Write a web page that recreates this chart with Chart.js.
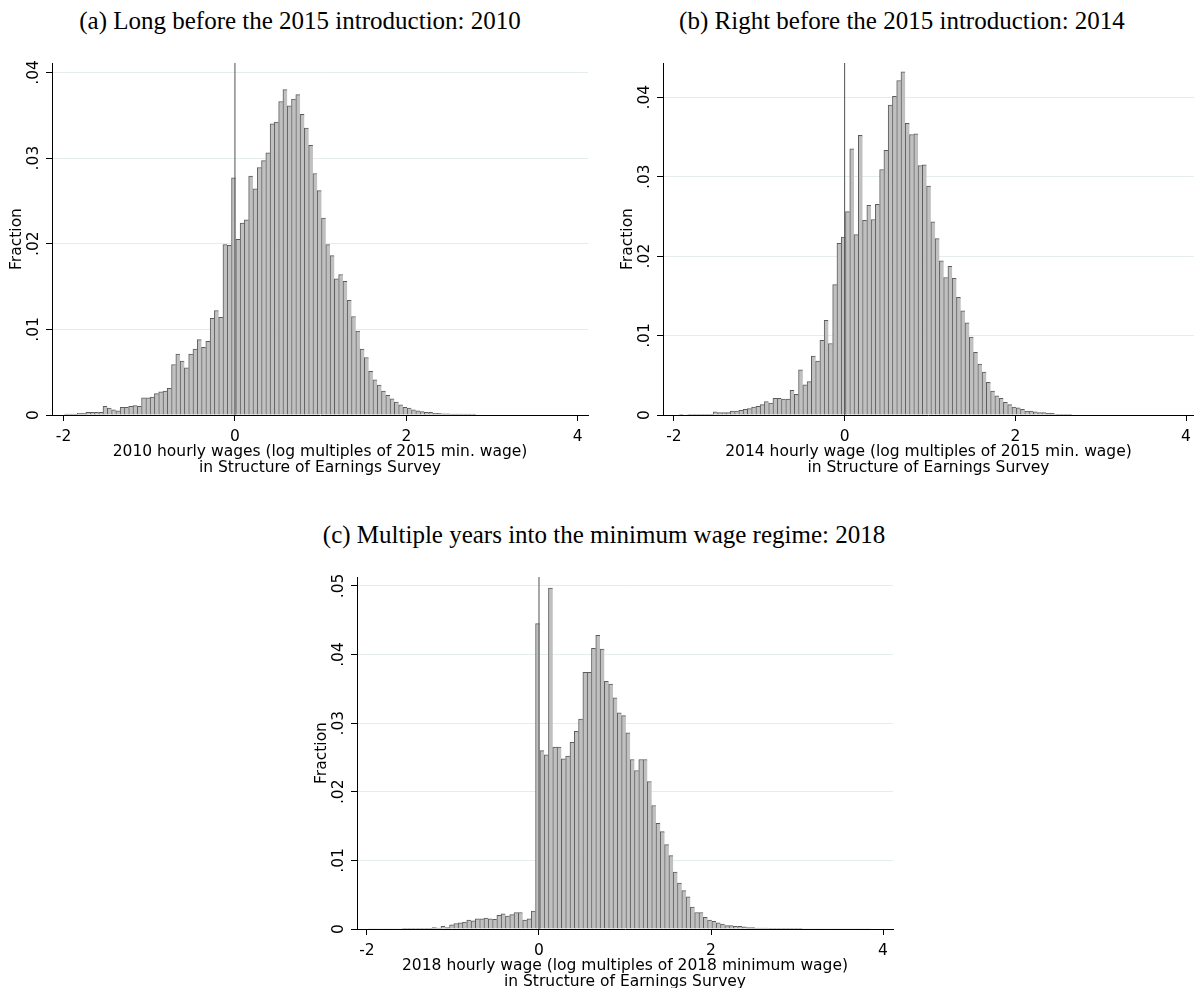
<!DOCTYPE html>
<html>
<head>
<meta charset="utf-8">
<script src="https://cdn.jsdelivr.net/npm/chart.js@4.4.1/dist/chart.umd.min.js"></script>
<style>
  body { margin: 0; background: #fff; width: 1198px; height: 988px; overflow: hidden; position: relative; }
  .panel { position: absolute; }
  .cap { position: absolute; font-family: "Liberation Serif", "DejaVu Serif", serif; font-size: 25px; line-height: 25px; color: #000; white-space: nowrap; transform: translateX(-50%); }
</style>
</head>
<body>
<div class="cap" style="left:300px; top:8px">(a) Long before the 2015 introduction: 2010</div>
<div class="cap" style="left:902px; top:8px">(b) Right before the 2015 introduction: 2014</div>
<div class="cap" style="left:604px; top:522px">(c) Multiple years into the minimum wage regime: 2018</div>
<canvas id="chartA" class="panel" width="600" height="490" style="left:0; top:0"></canvas>
<canvas id="chartB" class="panel" width="587" height="490" style="left:611px; top:0"></canvas>
<canvas id="chartC" class="panel" width="600" height="490" style="left:305px; top:514px"></canvas>
<script>
// histogram bins: width 0.05, first bin starts at -1.99
const binStart = -1.99;
const binWidth = 0.05;

const xTicks = [-2, 0, 2, 4];
const yTicksAB = [0, 0.01, 0.02, 0.03, 0.04];
const yTicksC = [0, 0.01, 0.02, 0.03, 0.04, 0.05];

// fractions per bin
const fraction2010 = [
  0.0001, 0.0001, 0.0001, 0.0002, 0.0002, 0.0003, 0.0003, 0.0003, 0.0003, 0.0010,
  0.0008, 0.0006, 0.0005, 0.0009, 0.0009, 0.0010, 0.0011, 0.0010, 0.0020, 0.0020,
  0.0021, 0.0025, 0.0027, 0.0028, 0.0031, 0.0059, 0.0071, 0.0063, 0.0055, 0.0071,
  0.0077, 0.0088, 0.0079, 0.0086, 0.0113, 0.0122, 0.0114, 0.0199, 0.0198, 0.0277,
  0.0205, 0.0224, 0.0228, 0.0279, 0.0264, 0.0289, 0.0297, 0.0306, 0.0340, 0.0342,
  0.0366, 0.0380, 0.0361, 0.0369, 0.0374, 0.0351, 0.0335, 0.0315, 0.0282, 0.0262,
  0.0230, 0.0199, 0.0186, 0.0159, 0.0164, 0.0156, 0.0134, 0.0115, 0.0098, 0.0077,
  0.0067, 0.0051, 0.0041, 0.0035, 0.0028, 0.0023, 0.0019, 0.0015, 0.0012, 0.0009,
  0.0008, 0.0006, 0.0005, 0.0004, 0.0003, 0.0003, 0.0002, 0.0002, 0.00015, 0.00015,
  0.0001, 0.0001, 0.0001, 0.0001, 0.0001, 0.0001, 0.00005, 0.00005, 0.00005, 0.00005,
  0.00005, 0.00005, 0.00005, 0.00005, 0.00005, 0.00005, 0.00005, 0.00005, 0.00005, 0.00005,
  0.00005, 0.00005, 0.00005, 0.00005, 0.00005, 0.00005, 0.00005, 0.00005, 0.00005
];

const fraction2014 = [
  0.00005, 0.0001, 0.00005, 0.0001, 0.0001, 0.0001, 0.0001, 0.0001, 0.0001, 0.0004,
  0.0003, 0.0003, 0.0003, 0.0005, 0.0005, 0.0006, 0.0007, 0.0008, 0.0010, 0.0011,
  0.0013, 0.0017, 0.0015, 0.0021, 0.0021, 0.0020, 0.0020, 0.0031, 0.0026, 0.0057,
  0.0038, 0.0042, 0.0074, 0.0068, 0.0094, 0.0119, 0.0090, 0.0164, 0.0216, 0.0224,
  0.0256, 0.0335, 0.0227, 0.0352, 0.0245, 0.0264, 0.0246, 0.0265, 0.0309, 0.0333,
  0.0390, 0.0401, 0.0421, 0.0432, 0.0367, 0.0353, 0.0354, 0.0314, 0.0315, 0.0288,
  0.0243, 0.0222, 0.0194, 0.0173, 0.0187, 0.0172, 0.0148, 0.0131, 0.0116, 0.0098,
  0.0079, 0.0064, 0.0054, 0.0041, 0.0030, 0.0024, 0.0021, 0.0016, 0.0013, 0.0010,
  0.0009, 0.0007, 0.0005, 0.0005, 0.0004, 0.0003, 0.0003, 0.0002, 0.0002, 0.0001,
  0.0001, 0.0001, 0.0001, 0.00005, 0.00005, 0.00005, 0.00005, 0.00005, 0.00005, 0.00005,
  0.00005, 0.00005, 0.00005, 0.00005, 0.00005, 0.00005, 0.00005, 0.00005, 0.00005, 0.00005,
  0.00005, 0.00005, 0.00005, 0.00005, 0.00005, 0.00005, 0.00005, 0, 0
];

const fraction2018 = [
  0.00005, 0.00005, 0.00005, 0.00005, 0.00005, 0.00005, 0.00005, 0.00005, 0.0001, 0.0001,
  0.0001, 0.0001, 0.0001, 0.0001, 0.0001, 0.0002, 0.00015, 0.0004, 0.0002, 0.0006,
  0.0008, 0.0009, 0.0010, 0.0013, 0.0012, 0.0015, 0.0015, 0.0016, 0.0015, 0.0014,
  0.0020, 0.0022, 0.0019, 0.0021, 0.0024, 0.0024, 0.0013, 0.0015, 0.0026, 0.0445,
  0.0260, 0.0254, 0.0497, 0.0265, 0.0265, 0.0248, 0.0252, 0.0272, 0.0288, 0.0306,
  0.0374, 0.0374, 0.0409, 0.0428, 0.0408, 0.0361, 0.0357, 0.0337, 0.0315, 0.0311,
  0.0286, 0.0247, 0.0231, 0.0247, 0.0247, 0.0215, 0.0180, 0.0154, 0.0142, 0.0123,
  0.0107, 0.0083, 0.0067, 0.0056, 0.0047, 0.0032, 0.0024, 0.0024, 0.0017, 0.0013,
  0.0011, 0.0009, 0.0007, 0.0005, 0.0005, 0.0004, 0.0004, 0.0003, 0.0002, 0.0002,
  0.00015, 0.00015, 0.00015, 0.0001, 0.0001, 0.0001, 0.0001, 0.0001, 0.0001, 0.0001,
  0.0001, 0.00005, 0.00005, 0.00005, 0.00005, 0.00005, 0.00005, 0.00005, 0.00005, 0.00005,
  0.00005, 0.00005, 0.00005, 0.00005, 0.00005, 0.00005, 0.00005, 0, 0
];

const xTitleA = ['2010 hourly wages (log multiples of 2015 min. wage)', 'in Structure of Earnings Survey'];
const xTitleB = ['2014 hourly wage (log multiples of 2015 min. wage)', 'in Structure of Earnings Survey'];
const xTitleC = ['2018 hourly wage (log multiples of 2018 minimum wage)', 'in Structure of Earnings Survey'];

const axisFont = { family: 'DejaVu Sans', size: 15.5 };

function fmtFraction(v) {
    if (v === 0) return '0';
    return v.toFixed(2).replace(/^0/, '');
}

function drawHist(id, values, yTicks, yMax, xTitle, xMin, xMax, padRight) {
    const ctx = document.getElementById(id).getContext('2d');
    const bars = values.map((v, i) => ({ x: binStart + binWidth * (i + 0.5), y: v }));

    return new Chart(ctx, {
        type: 'bar',
        data: {
            datasets: [
                {
                    // reference line at the minimum wage (log 0)
                    type: 'line',
                    data: [{ x: 0, y: 0 }, { x: 0, y: yMax }],
                    borderColor: '#505050',
                    borderWidth: 1,
                    pointRadius: 0,
                    order: 0
                },
                {
                    type: 'bar',
                    data: bars,
                    backgroundColor: '#c0c0c0',
                    borderColor: '#5c5c5c',
                    borderWidth: { top: 1, left: 1, right: 0, bottom: 0 },
                    barPercentage: 1,
                    categoryPercentage: 1,
                    order: 1
                }
            ]
        },
        options: {
            responsive: false,
            animation: false,
            events: [],
            layout: { padding: { left: 0, top: 63, right: padRight, bottom: 10 } },
            plugins: { legend: { display: false }, tooltip: { enabled: false } },
            scales: {
                x: {
                    type: 'linear',
                    min: xMin,
                    max: xMax,
                    offset: false,
                    afterBuildTicks: s => { s.ticks = xTicks.map(v => ({ value: v })); },
                    afterFit: s => { s.height = 65; },
                    grid: { drawOnChartArea: false, drawTicks: true, tickLength: 6, tickColor: '#000', offset: false },
                    border: { display: true, color: '#000', width: 1 },
                    ticks: { font: axisFont, color: '#000', padding: 7, maxRotation: 0, minRotation: 0, callback: v => String(v) },
                    title: { display: true, text: xTitle, color: '#000',
                             font: { family: 'DejaVu Sans', size: 15.5, lineHeight: 1.03 },
                             padding: { top: 0, bottom: 4 } }
                },
                y: {
                    min: 0,
                    max: yMax,
                    afterBuildTicks: s => { s.ticks = yTicks.map(v => ({ value: v })); },
                    afterFit: s => { s.width = 52; },
                    grid: {
                        color: c => (c.tick && c.tick.value === 0) ? 'rgba(0,0,0,0)' : '#e4ecec',
                        lineWidth: 1,
                        drawTicks: true,
                        tickLength: 6,
                        tickColor: '#000'
                    },
                    border: { display: true, color: '#000', width: 1 },
                    ticks: { font: axisFont, color: '#000', padding: 0, minRotation: 90, maxRotation: 90,
                             crossAlign: 'center', callback: v => fmtFraction(v) },
                    title: { display: true, text: 'Fraction', color: '#000', font: axisFont,
                             padding: { top: 8, bottom: 0 } }
                }
            }
        }
    });
}

drawHist('chartA', fraction2010, yTicksAB, 0.0411, xTitleA, -2.135, 4.12, 12);
drawHist('chartB', fraction2014, yTicksAB, 0.0443, xTitleB, -2.128, 4.093, 1);
drawHist('chartC', fraction2018, yTicksC, 0.0513, xTitleC, -2.116, 4.116, 12);
</script>
</body>
</html>
